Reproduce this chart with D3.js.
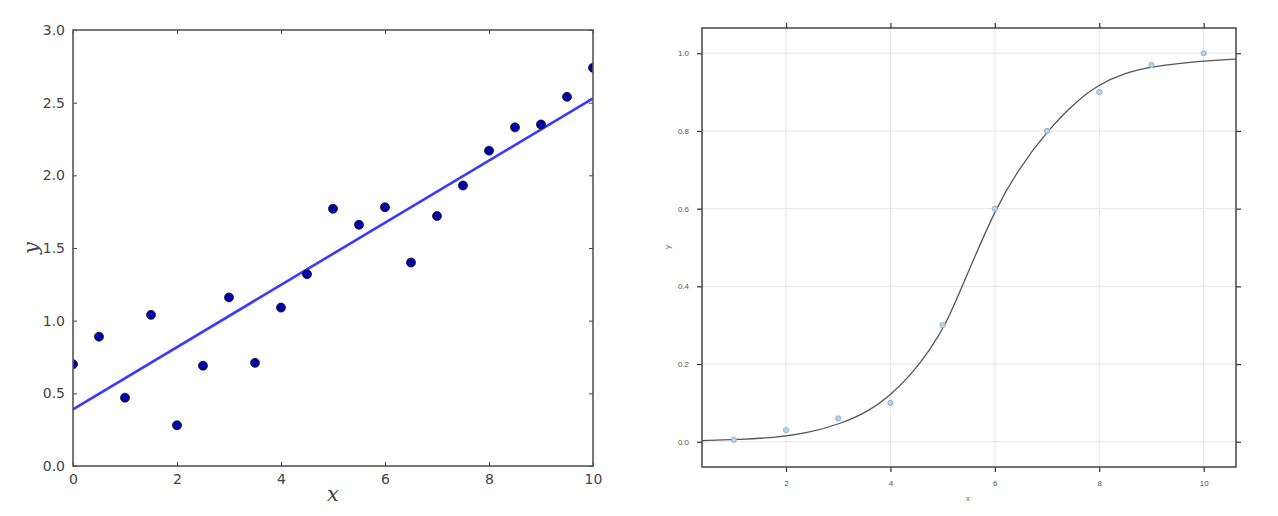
<!DOCTYPE html>
<html><head><meta charset="utf-8">
<script src="https://cdn.jsdelivr.net/npm/d3@7"></script>
<style>body{margin:0;background:#fff}svg{display:block}</style>
</head><body>
<svg id="c" width="1278" height="516"></svg>
<script>
// Left panel: scatter + linear fit
const leftX = [0,0.5,1,1.5,2,2.5,3,3.5,4,4.5,5,5.5,6,6.5,7,7.5,8,8.5,9,9.5,10];
const leftY = [0.70,0.89,0.47,1.04,0.28,0.69,1.16,0.71,1.09,1.32,1.77,1.66,1.78,1.40,1.72,1.93,2.17,2.33,2.35,2.54,2.74];
const fitX = [0,10];
const fitY = [0.39,2.53];
const leftXTicks = [0,2,4,6,8,10];
const leftYTicks = [0,0.5,1,1.5,2,2.5,3];

// Right panel: logistic points + fitted curve
const rightX = [1,2,3,4,5,6,7,8,9,10];
const rightY = [0.005,0.03,0.06,0.10,0.30,0.60,0.80,0.90,0.97,1.0];
const curveX = [0.39,1.12,1.82,2.40,3.03,3.61,4.0,4.38,4.76,5.08,5.34,5.59,6.0,6.42,7.0,7.57,8.0,8.46,9.0,10.0,10.62];
const curveY = [0.003,0.006,0.011,0.022,0.045,0.080,0.120,0.170,0.236,0.308,0.390,0.468,0.595,0.695,0.800,0.878,0.920,0.948,0.966,0.981,0.985];
const rightXTicks = [2,4,6,8,10];
const rightYTicks = [0,0.2,0.4,0.6,0.8,1.0];

const svg = d3.select("#c");

// ---------- LEFT ----------
{
  const L = {l:73, r:593, t:30, b:466};
  const x = d3.scaleLinear().domain([0,10]).range([L.l,L.r]);
  const y = d3.scaleLinear().domain([0,3]).range([L.b,L.t]);
  const g = svg.append("g");
  const fmt = d3.format(".1f");
  const tk = 4;
  const ax = (axis, tr) => {
    const a = g.append("g").attr("transform", tr).call(axis);
    a.select(".domain").remove();
    a.selectAll("line").attr("stroke","#444").attr("stroke-width",1);
    a.selectAll("text").attr("font-family","DejaVu Sans, sans-serif").attr("font-size",14).attr("fill","#444");
    return a;
  };
  ax(d3.axisBottom(x).tickValues(leftXTicks).tickSizeInner(-tk).tickSizeOuter(0).tickPadding(8).tickFormat(d3.format("d")), `translate(0,${L.b})`);
  ax(d3.axisTop(x).tickValues(leftXTicks).tickSizeInner(-tk).tickSizeOuter(0).tickFormat(""), `translate(0,${L.t})`);
  ax(d3.axisLeft(y).tickValues(leftYTicks).tickSizeInner(-tk).tickSizeOuter(0).tickPadding(8).tickFormat(fmt), `translate(${L.l},0)`);
  ax(d3.axisRight(y).tickValues(leftYTicks).tickSizeInner(-tk).tickSizeOuter(0).tickFormat(""), `translate(${L.r},0)`);
  g.append("path").datum(fitX.map((v,i)=>[v,fitY[i]]))
    .attr("d", d3.line().x(d=>x(d[0])).y(d=>y(d[1])))
    .attr("fill","none").attr("stroke","#3a3aff").attr("stroke-width",2.6);
  g.append("clipPath").attr("id","lclip").append("rect").attr("x",L.l).attr("y",L.t).attr("width",L.r-L.l).attr("height",L.b-L.t);
  g.append("g").attr("clip-path","url(#lclip)").selectAll("circle").data(leftX.map((v,i)=>[v,leftY[i]])).join("circle")
    .attr("cx",d=>x(d[0])).attr("cy",d=>y(d[1])).attr("r",4.5)
    .attr("fill","#0000a8").attr("stroke","#111").attr("stroke-width",0.8);
  g.append("rect").attr("x",L.l).attr("y",L.t).attr("width",L.r-L.l).attr("height",L.b-L.t)
    .attr("fill","none").attr("stroke","#555").attr("stroke-width",1.6);
  g.append("text").attr("x",(L.l+L.r)/2).attr("y",501).attr("text-anchor","middle")
    .attr("font-family","DejaVu Serif, serif").attr("font-style","italic").attr("font-size",21).attr("fill","#444").text("x");
  g.append("text").attr("transform",`translate(38,${(L.t+L.b)/2}) rotate(-90)`).attr("text-anchor","middle")
    .attr("font-family","DejaVu Serif, serif").attr("font-style","italic").attr("font-size",21).attr("fill","#444").text("y");
}

// ---------- RIGHT ----------
{
  const R = {l:702, r:1236, t:28, b:467};
  const x = d3.scaleLinear().domain([0.39,10.62]).range([R.l,R.r]);
  const y = d3.scaleLinear().domain([-0.065,1.065]).range([R.b,R.t]);
  const g = svg.append("g");
  g.append("g").selectAll("line").data(rightXTicks).join("line")
    .attr("x1",d=>x(d)).attr("x2",d=>x(d)).attr("y1",R.t).attr("y2",R.b)
    .attr("stroke","#e6e6e6").attr("stroke-width",1);
  g.append("g").selectAll("line").data(rightYTicks).join("line")
    .attr("y1",d=>y(d)).attr("y2",d=>y(d)).attr("x1",R.l).attr("x2",R.r)
    .attr("stroke","#e6e6e6").attr("stroke-width",1);
  const ax = (axis, tr) => {
    const a = g.append("g").attr("transform", tr).call(axis);
    a.select(".domain").remove();
    a.selectAll("line").attr("stroke","#333").attr("stroke-width",1.2);
    a.selectAll("text").attr("font-family","Liberation Sans, Arial, sans-serif").attr("font-size",8).attr("fill","#555");
    return a;
  };
  const tk = 5;
  ax(d3.axisBottom(x).tickValues(rightXTicks).tickSizeInner(tk).tickSizeOuter(0).tickPadding(8).tickFormat(d3.format("d")), `translate(0,${R.b})`);
  ax(d3.axisTop(x).tickValues(rightXTicks).tickSizeInner(tk).tickSizeOuter(0).tickFormat(""), `translate(0,${R.t})`);
  ax(d3.axisLeft(y).tickValues(rightYTicks).tickSizeInner(tk).tickSizeOuter(0).tickPadding(8).tickFormat(d3.format(".1f")), `translate(${R.l},0)`);
  ax(d3.axisRight(y).tickValues(rightYTicks).tickSizeInner(tk).tickSizeOuter(0).tickFormat(""), `translate(${R.r},0)`);
  g.append("path").datum(curveX.map((v,i)=>[v,curveY[i]]))
    .attr("d", d3.line().curve(d3.curveBasis).x(d=>x(d[0])).y(d=>y(d[1])))
    .attr("fill","none").attr("stroke","#555").attr("stroke-width",1.3);
  g.append("g").selectAll("circle").data(rightX.map((v,i)=>[v,rightY[i]])).join("circle")
    .attr("cx",d=>x(d[0])).attr("cy",d=>y(d[1])).attr("r",2.6)
    .attr("fill","#b8d4ea").attr("stroke","#7fb0d6").attr("stroke-width",0.9);
  g.append("rect").attr("x",R.l).attr("y",R.t).attr("width",R.r-R.l).attr("height",R.b-R.t)
    .attr("fill","none").attr("stroke","#444").attr("stroke-width",1.5);
  g.append("text").attr("x",968).attr("y",501).attr("text-anchor","middle")
    .attr("font-family","Liberation Sans, Arial, sans-serif").attr("font-size",8).attr("fill","#666").text("x");
  g.append("text").attr("transform",`translate(670,247) rotate(-90)`).attr("text-anchor","middle")
    .attr("font-family","Liberation Sans, Arial, sans-serif").attr("font-size",8).attr("fill","#666").text("y");
}
</script>
</body></html>
